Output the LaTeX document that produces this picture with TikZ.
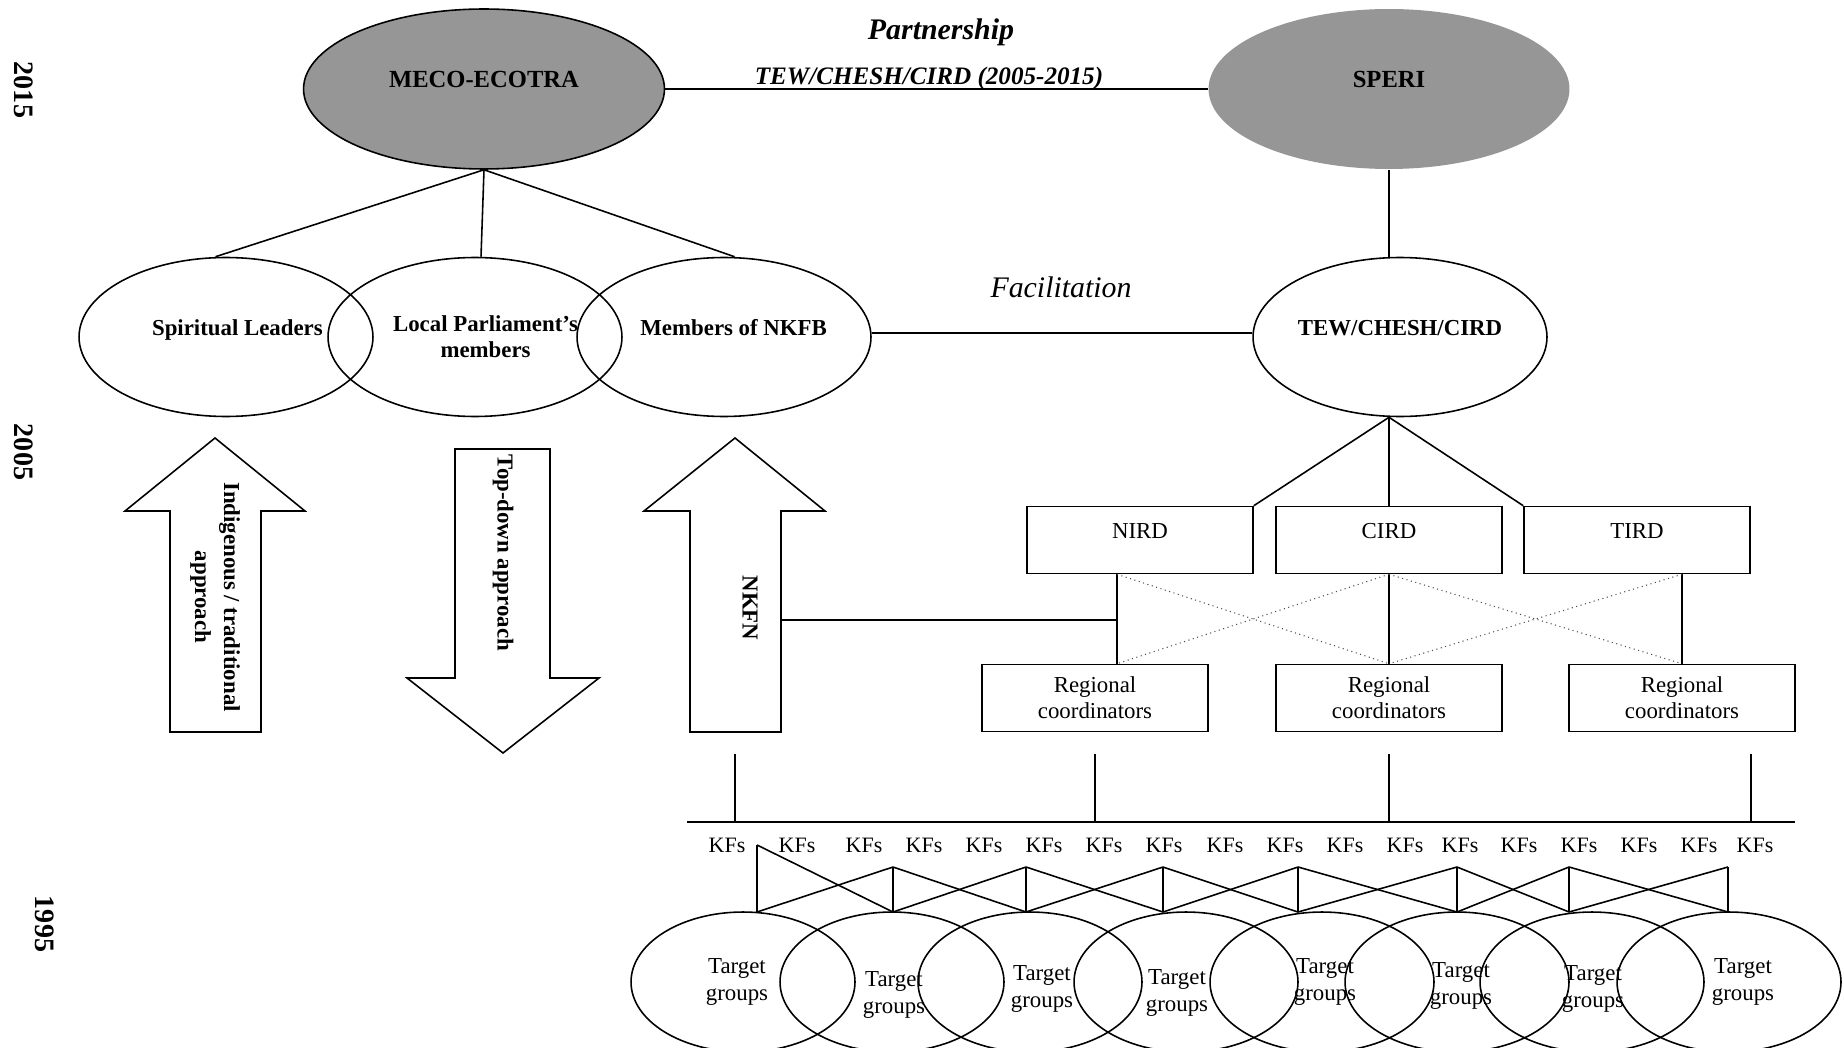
\documentclass[tikz,border=0pt]{standalone}
\usepackage{fontspec}
\setmainfont{Liberation Serif}
\usepackage{tikz}
\usetikzlibrary{positioning,shapes.geometric}
\definecolor{ovalfill}{RGB}{150,150,150}
\tikzset{
  oval/.style={ellipse, draw, line width=0.9pt, minimum width=5.88cm, minimum height=3.18cm,
    inner sep=0pt, align=center, font=\fontsize{13}{15}\selectfont\bfseries},
  bigoval/.style={oval, minimum width=7.22cm, minimum height=3.2cm, font=\fontsize{14}{16}\selectfont\bfseries},
  lift/.style={text height=9pt, text depth=11pt},
  unitbox/.style={rectangle, draw, line width=0.9pt, minimum width=4.52cm, minimum height=1.34cm,
    inner sep=0pt, align=center, font=\fontsize{13}{15}\selectfont},
  target/.style={ellipse, draw, line width=0.9pt, minimum width=4.48cm, minimum height=2.8cm, inner sep=0pt},
  targettext/.style={inner sep=0pt, align=center, font=\fontsize{13}{15}\selectfont},
  kf/.style={inner sep=0pt, font=\fontsize{12.5}{15}\selectfont},
  year/.style={rotate=-90, font=\fontsize{16}{18}\selectfont\bfseries},
  bigarrow/.style={draw, line width=0.9pt, fill=white},
  arrowtext/.style={rotate=-90, align=center, font=\fontsize{13}{16.5}\selectfont\bfseries},
  link/.style={line width=0.9pt},
  crosslink/.style={dotted, line width=0.6pt, black!70}
}

\begin{document}
\begin{tikzpicture}[x=0.02cm, y=-0.02cm]
        \useasboundingbox (0,0) rectangle (1844,1047);
        \node[year] (y2015) at (24,90) {2015};
        \node[year] (y2005) at (24,452) {2005};
        \node[year] (y1995) at (45,924) {1995};

        \node[bigoval, lift, fill=ovalfill] (meco) at (484,89) {MECO-ECOTRA};
        \node[bigoval, lift, fill=ovalfill, draw=none] (speri) at (1389,89) {SPERI};
        \node[font=\fontsize{17}{20}\selectfont\bfseries\itshape] (partner) at (941,32) {Partnership};
        \node[anchor=base, font=\fontsize{14.3}{16}\selectfont\bfseries\itshape] (period) at (929,85) {TEW/CHESH/CIRD (2005-2015)};
        \draw[link] (meco) -- (speri);

        \node[oval, lift] (spirit) at (226,337) {\hspace*{13pt}Spiritual Leaders};
        \node[oval] (parl) at (475,337) {\hspace*{12pt}Local Parliament's\\\hspace*{12pt}members};
        \node[oval, lift] (nkfb) at (724,337) {\hspace*{11pt}Members of NKFB};
        \node[oval, lift] (tew) at (1400,337) {TEW/CHESH/CIRD};
        \draw[link] (meco.south) -- ([xshift=-0.21cm]spirit.north);
        \draw[link] (meco.south) -- ([xshift=0.12cm]parl.north);
        \draw[link] (meco.south) -- ([xshift=0.21cm]nkfb.north);
        \draw[link] (speri.south) -- (speri.south |- tew.north);
        \node[font=\fontsize{17}{20}\selectfont\itshape] (facil) at (1061,287) {Facilitation};
        \draw[link] ([yshift=0.08cm]nkfb.east) -- ([yshift=0.08cm]tew.west);

        \node[unitbox, lift] (nird) at (1140,540) {NIRD};
        \node[unitbox, lift] (cird) at (1389,540) {CIRD};
        \node[unitbox, lift] (tird) at (1637,540) {TIRD};
        \coordinate (tewfoot) at (cird.north |- tew.south);
        \draw[link] (tewfoot) -- (nird.north east);
        \draw[link] (tewfoot) -- (cird.north);
        \draw[link] (tewfoot) -- (tird.north west);

        \node[unitbox] (rc1) at (1095,698) {Regional\\coordinators};
        \node[unitbox] (rc2) at (1389,698) {Regional\\coordinators};
        \node[unitbox] (rc3) at (1682,698) {Regional\\coordinators};
        \coordinate (split) at (1117,0);
        \draw[link] (split |- nird.south) -- (split |- rc1.north);
        \draw[link] (cird.south) -- (rc2.north);
        \draw[link] (rc3.north |- tird.south) -- (rc3.north);
        \draw[crosslink] (split |- nird.south) -- (rc2.north);
        \draw[crosslink] (cird.south) -- (split |- rc1.north);
        \draw[crosslink] (cird.south) -- (rc3.north);
        \draw[crosslink] (rc3.north |- tird.south) -- (rc2.north);

        \coordinate (nkfntip) at (735,438);
        \draw[bigarrow] (215,438) -- (305,511) -- (261,511) -- (261,732) -- (170,732) -- (170,511) -- (125,511) -- cycle;
        \node[arrowtext] (indig) at (215,597) {Indigenous / traditional\\approach};
        \draw[bigarrow] (503,753) -- (599,678) -- (550,678) -- (550,449) -- (455,449) -- (455,678) -- (407,678) -- cycle;
        \node[arrowtext] (topdown) at (503,553) {Top-down approach};
        \draw[bigarrow] (nkfntip) -- (825,511) -- (781,511) -- (781,732) -- (690,732) -- (690,511) -- (644,511) -- cycle;
        \node[arrowtext] (nkfn) at (750,608) {NKFN};
        \coordinate (nkfnside) at (781,620);
        \draw[link] (nkfnside) -- (split |- nkfnside);

        \coordinate (busl) at (687,822);
        \coordinate (busr) at (1795,822);
        \coordinate (droptop) at (0,754);
        \draw[line width=1.5pt] (busl) -- (busr);
        \draw[link] (nkfntip |- droptop) -- (nkfntip |- busl);
        \draw[link] (rc1.south |- droptop) -- (rc1.south |- busl);
        \draw[link] (rc2.south |- droptop) -- (rc2.south |- busl);
        \draw[link] (tird.east |- droptop) -- (tird.east |- busl);

        \foreach \x [count=\i] in {727,797,864,924,984,1044,1104,1164,1225,1285,1345,1405,1460,1519,1579,1639,1699,1755}
          \node[kf] (kf\i) at (\x,845) {KFs};

        \foreach \x [count=\i] in {757,893,1026,1163,1298,1457,1569,1728} {
          \coordinate (top\i) at (\x,867);
          \coordinate (bot\i) at (\x,912);
        }
        \coordinate (top1) at (757,845);
        \foreach \i in {1,...,8}
          \draw[link] (top\i) -- (bot\i);
        \foreach \i [evaluate=\i as \j using int(\i+1)] in {1,...,7} {
          \draw[link] (top\i) -- (bot\j);
          \draw[link] (bot\i) -- (top\j);
        }

        \foreach \x [count=\i] in {743,892,1030,1186,1322,1457,1592,1729}
          \node[target] (tg\i) at (\x,982) {};
        \foreach \x/\y [count=\i] in {737/982,894/995,1042/989,1177/993,1325/982,1461/986,1593/989,1743/982}
          \node[targettext] (tgtext\i) at (\x,\y) {Target\\groups};
\end{tikzpicture}
\end{document}
